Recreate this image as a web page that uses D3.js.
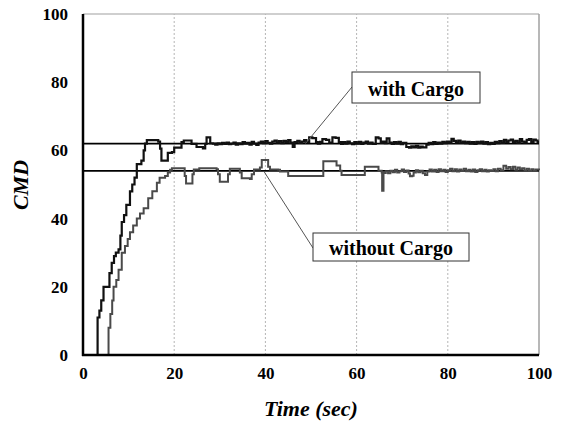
<!DOCTYPE html>
<html>
<head>
<meta charset="utf-8">
<script src="https://cdn.jsdelivr.net/npm/d3@7/dist/d3.min.js"></script>
<style>
  html, body { margin: 0; padding: 0; background: #fff; }
  svg { display: block; }
  .tick text { font-family: "Liberation Serif", "Times New Roman", serif; font-weight: bold; font-size: 17px; fill: #000; }
</style>
</head>
<body>
<svg id="chart" width="563" height="425"></svg>
<script>
// ---- data ----
const xTicks = [0, 20, 40, 60, 80, 100];
const yTicks = [0, 20, 40, 60, 80, 100];
const refValues = [62, 54];

// with Cargo: [time (sec), CMD]
const withCargo = [
  [0,0],[3.2,11],[3.6,13],[4.0,16],[4.5,20],[5.6,20],[5.8,24],[6.3,27],[6.8,29],[7.2,30],[7.8,31],
  [8.2,35],[8.5,39],[9.0,41],[9.5,44],[10.3,48],[10.8,50],[11.3,52],[11.8,56],[12.8,57],[13.3,60],
  [13.6,62],[14.0,63],[16.5,62.6],[16.9,60.5],[17.2,57],[18.5,57],[18.6,59.3],[19.5,59.5],[20.0,60.8],
  [21.6,62.4],[22.1,62.9],[23.8,61.9],[24.9,61],[26.3,60.6],[26.8,61.9],[27.1,63.8],[27.9,62.1],
  [28.5,62.0],[29,61.7],[29.5,62.1],[30,61.8],[30.5,62.2],[31,61.9],[31.5,62.3],[32,61.8],[32.5,62.0],
  [33,62.3],[33.5,61.7],[34,62.1],[34.5,61.8],[35,62.4],[35.5,62.0],[36,62.2],[36.5,61.7],[37,62.5],
  [37.5,62.0],[38,61.6],[38.5,62.3],[39,62.6],[39.5,62.1],[40,62.7],[40.5,62.2],[41,62.0],[41.5,62.6],
  [42,62.9],[42.5,62.3],[43,62.7],[43.5,62.1],[44,62.8],[44.5,62.4],[45,63.0],[45.5,62.3],[46,61.0],
  [46.4,62.4],[47,62.8],[47.5,62.2],[48,62.6],[48.5,63.0],[49,62.4],[49.6,63.8],[50.3,63.6],[51.1,62.4],
  [51.5,62.0],[52,62.5],[52.5,63.3],[53.3,63.1],[54,62.3],[54.7,63.8],[55.4,63.7],[56.1,62.4],[56.6,61.9],
  [57,62.4],[57.5,62.0],[58,62.6],[58.5,62.1],[59,61.8],[59.5,62.4],[60,62.0],[60.5,62.5],[61,61.9],
  [61.5,62.3],[62,62.6],[62.5,62.0],[63,62.3],[63.5,61.9],[64.2,63.8],[64.8,63.5],[65.3,62.2],[65.7,62.6],
  [66.2,62.1],[66.6,63.5],[67.2,62.3],[67.7,61.9],[68.2,62.4],[68.7,62.0],[69.2,62.5],[69.7,61.8],
  [70.2,62.2],[70.9,61.0],[71.5,60.8],[72,61.2],[72.5,60.9],[73,61.3],[73.5,60.8],[74,61.1],[74.5,60.9],
  [75.3,61.7],[75.8,62.2],[76.3,61.8],[76.8,62.4],[77.3,61.9],[77.8,62.3],[78.3,62.0],[78.8,62.5],
  [79.3,62.1],[79.8,62.6],[80.3,62.2],[80.8,63.4],[81.3,62.8],[81.8,62.3],[82.3,62.9],[82.8,62.2],
  [83.3,62.6],[83.8,62.1],[84.3,62.5],[84.8,62.0],[85.3,62.4],[85.8,61.9],[86.3,62.5],[86.8,62.1],
  [87.3,62.6],[87.8,62.0],[88.3,62.4],[88.8,61.8],[89.3,62.2],[89.8,61.9],[90.3,62.5],[90.8,62.1],
  [91.3,62.7],[91.8,62.2],[92.3,63.1],[92.8,62.4],[93.3,62.9],[93.8,63.2],[94.3,62.4],[94.8,62.8],
  [95.3,62.2],[95.8,63.3],[96.3,62.6],[96.8,62.3],[97.3,63.1],[97.8,63.3],[98.3,62.5],[98.8,63.2],
  [99.3,62.9],[99.7,62.4],[100,62.4]
];

// without Cargo: [time (sec), CMD]
const withoutCargo = [
  [0,0],[5.5,0],[5.6,8],[6.0,12],[6.4,16],[6.7,20],[7.3,22],[7.8,25],[8.5,30],[9.2,32],[9.8,34],
  [10.3,36],[11,38],[11.8,40],[12.5,41.5],[13.3,43],[14.3,46],[15.2,48],[16.2,50.5],[16.8,52],[18,52.5],
  [18.6,53.5],[19.1,54.3],[19.5,54.8],[22.2,54.8],[22.3,52.5],[22.6,50.3],[23.9,50.3],[24.0,53],
  [24.3,54.4],[25.5,54.8],[29.3,54.5],[29.6,53],[30,50.8],[31.5,50.8],[31.8,53],[32.2,54.6],[34.1,54.6],
  [34.4,53.5],[34.8,51.8],[36.6,51.6],[37,53],[37.5,54.4],[38.8,55],[39.2,57.2],[40.3,57.2],[40.6,55.2],
  [41,54.4],[42.8,54.3],[43.2,53.8],[45,52.5],[52.3,52.5],[52.7,56.8],[55.3,56.8],[55.6,55.6],[56.4,54],
  [56.7,52.8],[61.5,52.8],[61.8,55.2],[64.4,55.2],[64.8,54],[65.5,53.5],[65.6,48.2],[65.9,53.4],
  [66.4,53.9],[66.9,53.3],[67.4,54.0],[67.9,53.6],[68.4,54.3],[68.9,53.5],[69.4,53.9],[69.9,54.4],
  [70.4,53.7],[70.9,54.1],[71.4,53.2],[71.7,52.4],[72.2,52.6],[72.5,53.5],[73,54.2],[73.5,53.6],[74,54.0],
  [74.5,53.3],[75,52.8],[75.5,53.8],[76,54.4],[76.5,53.8],[77,54.3],[77.5,53.7],[78,54.5],[78.5,53.9],
  [79,54.3],[79.5,53.7],[80,54.2],[80.5,54.6],[81,53.9],[81.5,54.5],[82,53.8],[82.5,54.4],[83,54.0],
  [83.5,54.6],[84,53.9],[84.5,54.3],[85,53.8],[85.5,54.4],[86,53.7],[86.5,54.2],[87,54.5],[87.5,53.9],
  [88,54.3],[88.5,53.8],[89,54.2],[89.5,54.0],[90,54.5],[90.5,53.9],[91,54.6],[91.6,54.2],[92.2,55.5],
  [92.8,54.6],[93.3,55.1],[93.8,54.5],[94.3,55.2],[94.8,54.3],[95.3,55.0],[95.8,54.4],[96.3,54.8],
  [96.8,54.1],[97.3,54.6],[97.8,54.0],[98.3,54.5],[98.8,54.1],[99.3,54.4],[100,54.2]
];

const labels = ["with Cargo", "without Cargo"];
// annotation anchors in data units: [time, value] the leader line points to
const labelAnchors = [[48.8, 62], [39.7, 53.8]];

// ---- layout ----
const W = 563, H = 425;
const m = { left: 83, right: 24, top: 14, bottom: 70 };
const svg = d3.select("#chart");
const x = d3.scaleLinear().domain([0, 100]).range([m.left, W - m.right]);
const y = d3.scaleLinear().domain([0, 100]).range([H - m.bottom, m.top]);

// frame top/right
svg.append("line").attr("x1", x(0)).attr("x2", x(100)).attr("y1", y(100)).attr("y2", y(100))
  .attr("stroke", "#a0a0a0").attr("stroke-width", 1.2);
svg.append("line").attr("x1", x(100)).attr("x2", x(100)).attr("y1", y(0)).attr("y2", y(100))
  .attr("stroke", "#a0a0a0").attr("stroke-width", 1.5);

// vertical dotted gridlines
svg.append("g").selectAll("line").data(xTicks.filter(d => d > 0 && d < 100)).join("line")
  .attr("x1", d => x(d)).attr("x2", d => x(d)).attr("y1", y(0)).attr("y2", y(100))
  .attr("stroke", "#b5b5b5").attr("stroke-width", 1).attr("stroke-dasharray", "2,2");

// reference lines
svg.append("g").selectAll("line").data(refValues).join("line")
  .attr("x1", x(0)).attr("x2", x(100)).attr("y1", d => y(d)).attr("y2", d => y(d))
  .attr("stroke", "#000").attr("stroke-width", 1.8);

const line = d3.line().x(d => x(d[0])).y(d => y(d[1])).curve(d3.curveStepAfter);
svg.append("path").datum(withoutCargo).attr("d", line)
  .attr("fill", "none").attr("stroke", "#4a4a4a").attr("stroke-width", 2);
svg.append("path").datum(withCargo).attr("d", line)
  .attr("fill", "none").attr("stroke", "#111").attr("stroke-width", 2.2);

// axes
const xAxis = svg.append("g").attr("transform", `translate(0,${y(0)})`)
  .call(d3.axisBottom(x).tickValues(xTicks).tickSize(0).tickPadding(12));
xAxis.select(".domain").remove();
const yAxis = svg.append("g").attr("transform", `translate(${x(0)},0)`)
  .call(d3.axisLeft(y).tickValues(yTicks).tickSize(0).tickPadding(15));
yAxis.select(".domain").remove();

svg.append("line").attr("x1", x(0)).attr("x2", x(0)).attr("y1", y(0) + 1).attr("y2", y(100))
  .attr("stroke", "#000").attr("stroke-width", 2.5);
svg.append("line").attr("x1", x(0) - 1).attr("x2", x(100)).attr("y1", y(0)).attr("y2", y(0))
  .attr("stroke", "#000").attr("stroke-width", 2.5);

// axis titles
svg.append("text").attr("x", (x(0) + x(100)) / 2).attr("y", 416)
  .attr("text-anchor", "middle")
  .style("font-family", '"Liberation Serif", "Times New Roman", serif')
  .style("font-weight", "bold").style("font-style", "italic").style("font-size", "22px")
  .text("Time (sec)");
svg.append("text").attr("transform", "translate(28,185) rotate(-90)")
  .attr("text-anchor", "middle")
  .style("font-family", '"Liberation Serif", "Times New Roman", serif')
  .style("font-weight", "bold").style("font-style", "italic").style("font-size", "22px")
  .text("CMD");

// annotations
const boxes = [
  { x0: 352, y0: 72, w: 128, h: 31, tx: 416, ty: 96, lx: 352, ly: 87 },
  { x0: 313, y0: 233, w: 156, h: 28, tx: 391, ty: 255, lx: 313, ly: 248 }
];
boxes.forEach((b, i) => {
  const a = labelAnchors[i];
  svg.append("line").attr("x1", b.lx).attr("y1", b.ly).attr("x2", x(a[0])).attr("y2", y(a[1]))
    .attr("stroke", "#555").attr("stroke-width", 1);
  svg.append("rect").attr("x", b.x0).attr("y", b.y0).attr("width", b.w).attr("height", b.h)
    .attr("fill", "#fff").attr("stroke", "#333").attr("stroke-width", 1);
  svg.append("text").attr("x", b.tx).attr("y", b.ty).attr("text-anchor", "middle")
    .style("font-family", '"Liberation Serif", "Times New Roman", serif')
    .style("font-weight", "bold").style("font-size", "20px")
    .text(labels[i]);
});
</script>
</body>
</html>
